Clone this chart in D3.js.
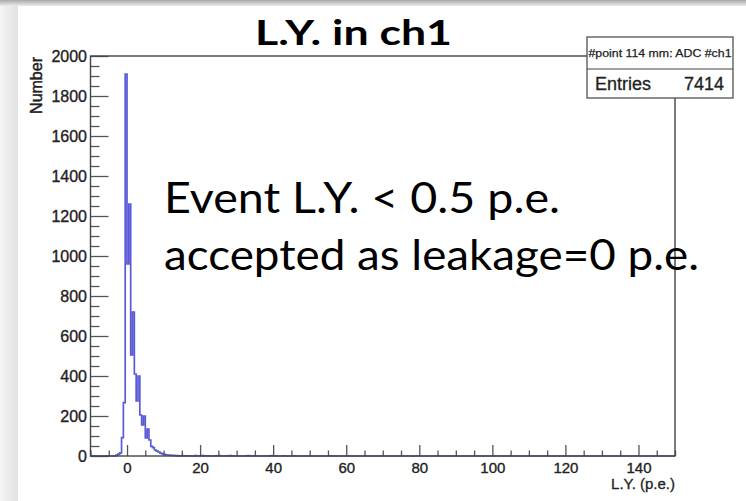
<!DOCTYPE html>
<html>
<head>
<meta charset="utf-8">
<script src="https://cdn.jsdelivr.net/npm/d3@7"></script>
<style>
  html, body { margin: 0; padding: 0; background: #fff; }
  svg { display: block; }
</style>
</head>
<body>
<svg id="chart" width="746" height="501"></svg>
<script>
// Light yield histogram for channel 1, bins 0.5 p.e. wide.
const binWidth = 0.5;
// lower edges of the non-empty bins (p.e.)
const binLow = [-3, -2.5, -2, -1.5, -1, -0.5,
  0, 0.5, 1, 1.5, 2, 2.5, 3, 3.5, 4, 4.5, 5, 5.5, 6,
  6.5, 7, 7.5, 8, 8.5, 9, 9.5, 10, 10.5, 11, 11.5, 12, 12.5, 13,
  13.5, 14.5, 15, 16, 17, 18.5, 19.5, 20.5, 21.5, 22,
  24, 25, 25.5, 27, 28, 29,
  32, 33, 34, 35,
  38.5, 39.5, 40.5, 42.5, 45.5, 55.5];
// entries in those bins
const binCount = [4, 9, 16, 92, 267, 1910,
  960, 1260, 506, 720, 410, 275, 400, 205, 155, 200, 90, 135, 80,
  48, 42, 30, 24, 20, 14, 11, 8, 6, 5, 4, 3, 3, 2,
  2, 1, 2, 1, 1, 2, 1, 2, 1, 1,
  1, 2, 1, 1, 2, 1,
  1, 2, 1, 1,
  1, 2, 1, 1, 1, 1];

const xRange = [-10, 150];
const yRange = [0, 2000];
const xMajorTicks = [0, 20, 40, 60, 80, 100, 120, 140];
const yMajorTicks = [0, 200, 400, 600, 800, 1000, 1200, 1400, 1600, 1800, 2000];
const xMinorStep = 5;
const yMinorStep = 50;

const titleText = "L.Y. in ch1";
const xTitle = "L.Y. (p.e.)";
const yTitle = "Number";
const statsName = "#point 114 mm: ADC #ch1";
const statsEntries = 7414;
const noteLines = ["Event L.Y. < 0.5 p.e.", "accepted as leakage=0 p.e."];

const svg = d3.select("#chart");
const axisFont = "'Liberation Sans', Arial, Helvetica, sans-serif";
const slideFont = "Lato, 'Open Sans', sans-serif";
const labelInk = "#222";

// slide border shading
const defs = svg.append("defs");
const gl = defs.append("linearGradient").attr("id", "leftShade")
  .attr("x1", 0).attr("x2", 1).attr("y1", 0).attr("y2", 0);
gl.append("stop").attr("offset", 0).attr("stop-color", "#f4f4f4");
gl.append("stop").attr("offset", 1).attr("stop-color", "#e2e2e2");
const gt = defs.append("linearGradient").attr("id", "topShade")
  .attr("x1", 0).attr("x2", 0).attr("y1", 0).attr("y2", 1);
gt.append("stop").attr("offset", 0).attr("stop-color", "#a9a9a9");
gt.append("stop").attr("offset", 1).attr("stop-color", "#ececec");

svg.append("rect").attr("x", 0).attr("y", 0).attr("width", 746).attr("height", 501).attr("fill", "#fff");
svg.append("rect").attr("x", 0).attr("y", 0).attr("width", 18).attr("height", 501).attr("fill", "url(#leftShade)");
svg.append("rect").attr("x", 0).attr("y", 0).attr("width", 746).attr("height", 6).attr("fill", "url(#topShade)");

// scales
const x = d3.scaleLinear().domain(xRange).range([90.5, 675]);
const y = d3.scaleLinear().domain(yRange).range([456, 56]);

// full bin list across the axis range
const countByLow = new Map(binLow.map((b, i) => [b.toFixed(1), binCount[i]]));
const nBins = Math.round((xRange[1] - xRange[0]) / binWidth);
const bins = d3.range(nBins).map(i => {
  const lo = xRange[0] + i * binWidth;
  return { lo, n: countByLow.get(lo.toFixed(1)) || 0 };
});
const stepPts = bins.map(b => [b.lo, b.n]);
stepPts.push([xRange[1], bins[bins.length - 1].n]);

const stepLine = d3.line()
  .x(d => x(d[0]))
  .y(d => y(d[1]))
  .curve(d3.curveStepAfter);

svg.append("path")
  .attr("d", stepLine(stepPts))
  .attr("fill", "none")
  .attr("stroke", "#5a5ad8")
  .attr("stroke-width", 1.7)
  .attr("stroke-linejoin", "miter");

// axes
const tickColor = "#555";
const xMinor = d3.range(xRange[0], xRange[1] + 0.001, xMinorStep).filter(v => !xMajorTicks.includes(v));
const yMinor = d3.range(yRange[0], yRange[1] + 0.001, yMinorStep).filter(v => !yMajorTicks.includes(v));

function styleAxis(g, size) {
  g.select(".domain").remove();
  g.selectAll(".tick line").attr("stroke", tickColor).attr("stroke-width", 1.3);
  g.selectAll(".tick text")
    .attr("fill", labelInk).attr("stroke", labelInk).attr("stroke-width", 0.35)
    .attr("font-family", axisFont).attr("font-size", size);
}

svg.append("g").attr("transform", `translate(0,${y(0)})`)
  .call(d3.axisBottom(x).tickValues(xMinor).tickSize(-5.5).tickFormat(""))
  .call(g => styleAxis(g, 15));
svg.append("g").attr("transform", `translate(0,${y(0)})`)
  .call(d3.axisBottom(x).tickValues(xMajorTicks).tickSizeInner(-11).tickSizeOuter(0).tickPadding(6).tickFormat(d3.format("d")))
  .call(g => styleAxis(g, 15));

svg.append("g").attr("transform", `translate(${x(xRange[0])},0)`)
  .call(d3.axisLeft(y).tickValues(yMinor).tickSize(-9).tickFormat(""))
  .call(g => styleAxis(g, 16));
svg.append("g").attr("transform", `translate(${x(xRange[0])},0)`)
  .call(d3.axisLeft(y).tickValues(yMajorTicks).tickSizeInner(-18).tickSizeOuter(0).tickPadding(3.5).tickFormat(d3.format("d")))
  .call(g => styleAxis(g, 16));

// frame
svg.append("rect")
  .attr("x", x(xRange[0])).attr("y", y(yRange[1]))
  .attr("width", x(xRange[1]) - x(xRange[0]))
  .attr("height", y(yRange[0]) - y(yRange[1]))
  .attr("fill", "none").attr("stroke", "#444").attr("stroke-width", 1.4);

// axis titles
svg.append("text")
  .attr("x", x(xRange[1])).attr("y", 489)
  .attr("text-anchor", "end")
  .attr("font-family", axisFont).attr("font-size", 15)
  .attr("fill", labelInk).attr("stroke", labelInk).attr("stroke-width", 0.3)
  .text(xTitle);
svg.append("text")
  .attr("transform", `translate(41.5,${y(yRange[1]) + 1}) rotate(-90)`)
  .attr("text-anchor", "end")
  .attr("font-family", axisFont).attr("font-size", 16)
  .attr("fill", labelInk).attr("stroke", labelInk).attr("stroke-width", 0.45)
  .text(yTitle);

// statistics box
const sb = svg.append("g");
sb.append("rect").attr("x", 587).attr("y", 37).attr("width", 146).attr("height", 61)
  .attr("fill", "#fff").attr("stroke", "#444").attr("stroke-width", 1.2);
sb.append("line").attr("x1", 587).attr("x2", 733).attr("y1", 69).attr("y2", 69)
  .attr("stroke", "#444").attr("stroke-width", 1.2);
sb.append("text").attr("x", 660).attr("y", 56.5).attr("text-anchor", "middle")
  .attr("font-family", axisFont).attr("font-size", 11)
  .attr("fill", labelInk).attr("stroke", labelInk).attr("stroke-width", 0.25)
  .attr("textLength", 143).attr("lengthAdjust", "spacingAndGlyphs")
  .text(statsName);
sb.append("text").attr("x", 595).attr("y", 90)
  .attr("font-family", axisFont).attr("font-size", 18)
  .attr("fill", labelInk).attr("stroke", labelInk).attr("stroke-width", 0.3)
  .text("Entries");
sb.append("text").attr("x", 724).attr("y", 90).attr("text-anchor", "end")
  .attr("font-family", axisFont).attr("font-size", 18)
  .attr("fill", labelInk).attr("stroke", labelInk).attr("stroke-width", 0.3)
  .text(d3.format("d")(statsEntries));

// title and note
svg.append("text").attr("x", 255).attr("y", 45)
  .attr("font-family", slideFont).attr("font-weight", "bold").attr("font-size", 35).attr("fill", "#000")
  .attr("textLength", 197).attr("lengthAdjust", "spacingAndGlyphs")
  .text(titleText);

const noteX = 164;
const noteY = [213, 270];
const noteLen = [396, 535];
noteLines.forEach((t, i) => {
  svg.append("text").attr("x", noteX).attr("y", noteY[i])
    .attr("font-family", slideFont).attr("font-size", 42).attr("fill", "#000")
    .attr("textLength", noteLen[i]).attr("lengthAdjust", "spacingAndGlyphs")
    .text(t);
});
</script>
</body>
</html>
